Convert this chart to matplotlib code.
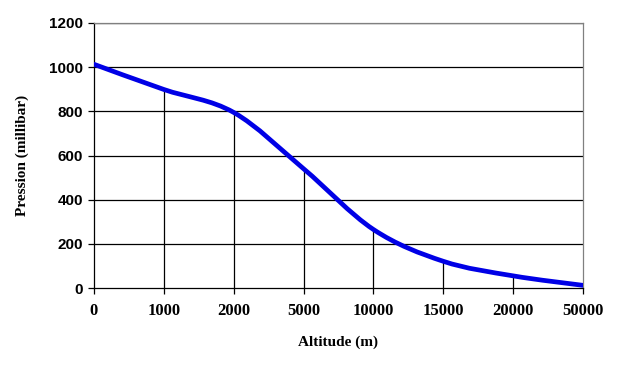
#!/usr/bin/env python3
"""Pression atmospherique en fonction de l'altitude (style Excel, courbe lissee)."""

import matplotlib
matplotlib.use("Agg")
import matplotlib.pyplot as plt
from matplotlib.path import Path
from matplotlib.patches import PathPatch

altitudes = ["0", "1000", "2000", "5000", "10000", "15000", "20000", "50000"]
pression = [1013, 899, 795, 540, 265, 121, 55, 12]
y_ticks = [0, 200, 400, 600, 800, 1000, 1200]


def smooth_path(xs, ys):
    # Bezier segments like Excel's "smoothed line" (Catmull-Rom control points)
    pts = list(zip(xs, ys))
    n = len(pts)
    verts = [pts[0]]
    codes = [Path.MOVETO]
    for i in range(n - 1):
        p0 = pts[i - 1] if i > 0 else pts[i]
        p1 = pts[i]
        p2 = pts[i + 1]
        p3 = pts[i + 2] if i + 2 < n else pts[i + 1]
        c1 = (p1[0] + (p2[0] - p0[0]) / 6, p1[1] + (p2[1] - p0[1]) / 6)
        c2 = (p2[0] - (p3[0] - p1[0]) / 6, p2[1] - (p3[1] - p1[1]) / 6)
        verts += [c1, c2, p2]
        codes += [Path.CURVE4] * 3
    return Path(verts, codes)


fig = plt.figure(figsize=(6.27, 3.65), dpi=100)
ax = fig.add_axes([94 / 627, 77 / 365, 489 / 627, 265 / 365])

x = list(range(len(altitudes)))
ax.set_xlim(0, len(altitudes) - 1)
ax.set_ylim(0, 1200)

for yv in y_ticks[1:]:
    ax.axhline(yv, color="black", lw=0.9, zorder=1)
ax.vlines(x[1:-1], 0, pression[1:-1], color="black", lw=0.9, zorder=1)

ax.add_patch(PathPatch(smooth_path(x, pression), facecolor="none",
                       edgecolor="#0000e6", lw=3.4, capstyle="round", zorder=3))

ax.set_xticks(x)
ax.set_xticklabels(altitudes, family="Liberation Serif", weight="bold", fontsize=12)
ax.set_yticks(y_ticks)
ax.set_yticklabels([str(v) for v in y_ticks], family="Liberation Sans", weight="bold", fontsize=11)
ax.tick_params(axis="x", direction="out", length=4, width=0.9, pad=7)
ax.tick_params(axis="y", direction="out", length=4, width=0.9, pad=4)

for side in ("top", "right"):
    ax.spines[side].set_color("#808080")
    ax.spines[side].set_linewidth(0.9)
for side in ("left", "bottom"):
    ax.spines[side].set_color("black")
    ax.spines[side].set_linewidth(0.9)

ax.set_xlabel("Altitude (m)", family="Liberation Serif", weight="bold", fontsize=11, labelpad=12)
ax.set_ylabel("Pression (millibar)", family="Liberation Serif", weight="bold", fontsize=11, labelpad=14)

fig.savefig("out.png", dpi=100, facecolor="white")
